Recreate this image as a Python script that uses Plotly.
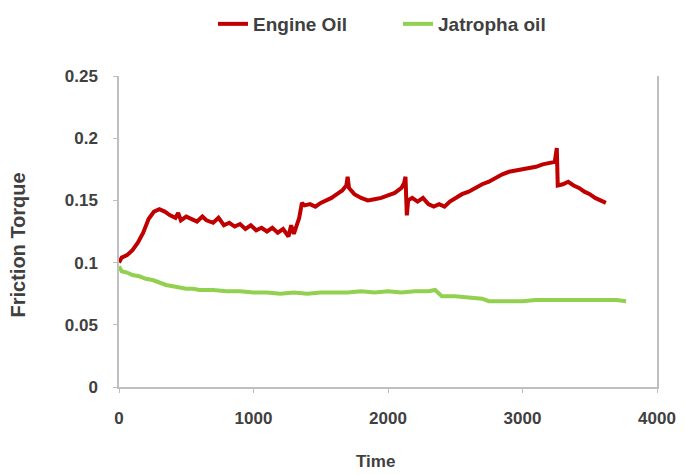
import plotly.graph_objects as go

engine_x = [0, 20, 60, 100, 140, 180, 220, 260, 300, 340, 380, 420, 440, 460, 500, 540, 580, 620, 650, 700,
            740, 780, 820, 860, 900, 940, 980, 1020, 1060, 1100, 1140, 1180, 1220, 1260, 1280, 1300, 1320, 1340,
            1360, 1380, 1420, 1460, 1500, 1540, 1580, 1620, 1660, 1690, 1700, 1710, 1750, 1800, 1850, 1900, 1950,
            2000, 2050, 2100, 2120, 2130, 2135, 2140, 2150, 2180, 2220, 2260, 2300, 2340, 2380, 2420, 2460, 2500,
            2550, 2600, 2650, 2700, 2750, 2800, 2850, 2900, 2950, 3000, 3050, 3100, 3150, 3200, 3240, 3255, 3262,
            3300, 3340, 3380, 3420, 3460, 3500, 3540, 3580, 3620]
engine_y = [0.100, 0.104, 0.106, 0.110, 0.116, 0.124, 0.135, 0.141, 0.143, 0.141, 0.138, 0.136, 0.140, 0.134,
            0.137, 0.135, 0.133, 0.137, 0.134, 0.132, 0.136, 0.130, 0.132, 0.129, 0.131, 0.127, 0.130, 0.126,
            0.128, 0.125, 0.128, 0.124, 0.127, 0.121, 0.130, 0.123, 0.131, 0.136, 0.148, 0.146, 0.147, 0.145,
            0.148, 0.150, 0.152, 0.155, 0.158, 0.162, 0.169, 0.160, 0.155, 0.152, 0.150, 0.151, 0.152, 0.154,
            0.156, 0.160, 0.164, 0.169, 0.140, 0.138, 0.150, 0.152, 0.149, 0.152, 0.147, 0.145, 0.147, 0.145,
            0.149, 0.152, 0.155, 0.157, 0.160, 0.163, 0.165, 0.168, 0.171, 0.173, 0.174, 0.175, 0.176, 0.177,
            0.179, 0.180, 0.181, 0.192, 0.162, 0.163, 0.165, 0.162, 0.160, 0.157, 0.155, 0.152, 0.150, 0.148]

jatropha_x = [0, 20, 60, 100, 150, 200, 250, 300, 350, 400, 450, 500, 550, 600, 700, 800, 900, 1000, 1100,
              1200, 1300, 1400, 1500, 1600, 1700, 1800, 1900, 2000, 2100, 2200, 2300, 2350, 2400, 2500, 2600,
              2700, 2750, 2800, 2900, 3000, 3100, 3200, 3300, 3400, 3500, 3600, 3700, 3770]
jatropha_y = [0.097, 0.093, 0.092, 0.090, 0.089, 0.087, 0.086, 0.084, 0.082, 0.081, 0.080, 0.079, 0.079,
              0.078, 0.078, 0.077, 0.077, 0.076, 0.076, 0.075, 0.076, 0.075, 0.076, 0.076, 0.076, 0.077,
              0.076, 0.077, 0.076, 0.077, 0.077, 0.078, 0.073, 0.073, 0.072, 0.071, 0.069, 0.069, 0.069,
              0.069, 0.070, 0.070, 0.070, 0.070, 0.070, 0.070, 0.070, 0.069]

x_ticks = [0, 1000, 2000, 3000, 4000]
y_ticks = [0, 0.05, 0.1, 0.15, 0.2, 0.25]
y_tick_labels = ["0", "0.05", "0.1", "0.15", "0.2", "0.25"]

font_family = "Liberation Sans, Arial, sans-serif"
text_color = "#404040"
axis_color = "#BFBFBF"

# page has an 8px body margin, so the figure is sized and placed to land on the reference pixels
W, H = 677, 467
L, R, T, B = 111, 28, 68, 88
plot_w = W - L - R
plot_h = H - T - B

fig = go.Figure()
fig.add_trace(go.Scatter(x=engine_x, y=engine_y, mode="lines", name="<b>Engine Oil</b>",
                         line=dict(color="#C00000", width=4)))
fig.add_trace(go.Scatter(x=jatropha_x, y=jatropha_y, mode="lines", name="<b>Jatropha oil</b>",
                         line=dict(color="#92D050", width=4)))

fig.update_layout(
    width=W, height=H,
    margin=dict(l=L, r=R, t=T, b=B, autoexpand=False),
    paper_bgcolor="white", plot_bgcolor="white",
    font=dict(family=font_family, color=text_color, size=17),
    showlegend=True,
    legend=dict(orientation="h", xref="container", x=(213 - 8) / W, xanchor="left",
                yref="container", y=1 - 16 / H, yanchor="middle",
                entrywidth=140, entrywidthmode="pixels",
                font=dict(size=19, color=text_color), traceorder="normal"),
    annotations=[
        dict(text="<b>Friction Torque</b>", xref="paper", yref="paper",
             x=-(L - 9) / plot_w, y=0.5 - 14 / plot_h, xanchor="center", yanchor="middle",
             textangle=-90, showarrow=False, font=dict(size=20, color=text_color)),
        dict(text="<b>Time</b>", xref="paper", yref="paper",
             x=(367 - L) / plot_w, y=-(453 - (H - B)) / plot_h, xanchor="center", yanchor="middle",
             showarrow=False, font=dict(size=17, color=text_color)),
    ],
)

fig.update_xaxes(range=[0, 4000], tickvals=x_ticks, ticktext=[f"<b>{v}</b>" for v in x_ticks],
                 showgrid=False, zeroline=False, showline=True, linecolor=axis_color, linewidth=1.5,
                 ticks="outside", ticklen=4, tickcolor=axis_color, ticklabelstandoff=11,
                 tickfont=dict(size=17, color=text_color))
fig.update_yaxes(range=[0, 0.25], tickvals=y_ticks, ticktext=[f"<b>{t}</b>" for t in y_tick_labels],
                 showgrid=False, zeroline=False, showline=True, linecolor=axis_color, linewidth=1.5,
                 mirror=True, ticks="outside", ticklen=4, tickcolor=axis_color, ticklabelstandoff=12,
                 tickfont=dict(size=17, color=text_color))

fig.write_html("out.html")
